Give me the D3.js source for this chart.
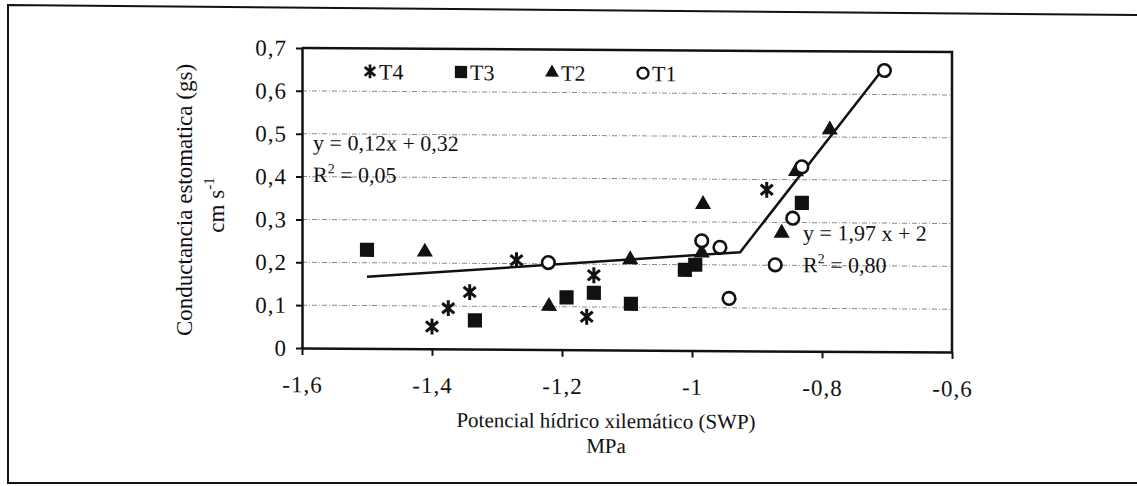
<!DOCTYPE html>
<html>
<head>
<meta charset="utf-8" />
<title>Conductancia estomatica vs potencial hidrico</title>
<script src="https://cdn.jsdelivr.net/npm/d3@7"></script>
<style>
body {
    margin: 0;
    background-color: #ffffff;
}
</style>
</head>
<body>
<svg id="chart"></svg>
<script>
// ---- data ----
var seriesNames = ["T4", "T3", "T2", "T1"];

var t4X = [-1.400, -1.375, -1.342, -1.270, -1.162, -1.151, -0.885];
var t4Y = [0.052, 0.095, 0.133, 0.208, 0.077, 0.174, 0.376];

var t3X = [-1.500, -1.334, -1.193, -1.151, -1.094, -1.011, -0.995, -0.831];
var t3Y = [0.230, 0.067, 0.122, 0.133, 0.108, 0.188, 0.200, 0.346];

var t2X = [-1.411, -1.220, -1.095, -0.983, -0.985, -0.862, -0.840, -0.788];
var t2Y = [0.226, 0.101, 0.211, 0.341, 0.228, 0.275, 0.419, 0.517];

var t1X = [-1.221, -0.985, -0.957, -0.943, -0.872, -0.845, -0.831, -0.704];
var t1Y = [0.203, 0.256, 0.241, 0.122, 0.201, 0.310, 0.430, 0.656];

// broken trend line (two segments)
var trendX = [-1.500, -0.926, -0.710];
var trendY = [0.167, 0.230, 0.652];

var xTicks = [-1.6, -1.4, -1.2, -1, -0.8, -0.6];
var yTicks = [0, 0.1, 0.2, 0.3, 0.4, 0.5, 0.6, 0.7];
var gridTicks = [0.1, 0.2, 0.3, 0.4, 0.5, 0.6];

var eq1 = ["y = 0,12x + 0,32", "0,05"];
var eq2 = ["y = 1,97 x + 2", "0,80"];

var width = 1137, height = 486;
var plot = { left: 302, right: 952, top: 48, bottom: 348 };
var skew = 0.36; // the scan is slightly tilted
var serif = "'Liberation Serif', 'DejaVu Serif', 'Times New Roman', serif";

var svg = d3.select("#chart")
    .attr("width", width)
    .attr("height", height)
    .style("font-family", serif);

svg.append("rect")
    .attr("width", width)
    .attr("height", height)
    .attr("fill", "#fff");

// outer frame of the figure
svg.append("path")
    .attr("d", "M1137,15 L8,5 L8,483 L1137,483")
    .attr("fill", "none")
    .attr("stroke", "#111")
    .attr("stroke-width", 2);

var g = svg.append("g")
    .attr("transform", "translate(0," + (-plot.left * Math.tan(skew * Math.PI / 180)) + ") skewY(" + skew + ")");

var x = d3.scaleLinear().domain([-1.6, -0.6]).range([plot.left, plot.right]);
var y = d3.scaleLinear().domain([0, 0.7]).range([plot.bottom, plot.top]);

var locale = d3.formatLocale({ decimal: ",", thousands: ".", grouping: [3], currency: ["", ""], minus: "-" });
var fmt = locale.format(".1~f");

// grid
g.append("g").selectAll("line")
    .data(gridTicks)
    .enter().append("line")
    .attr("x1", plot.left)
    .attr("x2", plot.right)
    .attr("y1", function(d) { return y(d); })
    .attr("y2", function(d) { return y(d); })
    .attr("stroke", "#8a8a8a")
    .attr("stroke-width", 1)
    .attr("stroke-dasharray", "5,2,1,2");

// plot box top and right
g.append("path")
    .attr("d", "M" + plot.left + "," + plot.top + " L" + plot.right + "," + plot.top + " L" + plot.right + "," + plot.bottom)
    .attr("fill", "none")
    .attr("stroke", "#111")
    .attr("stroke-width", 2.5);

// axes
var xAxis = d3.axisBottom(x)
    .tickValues(xTicks)
    .tickFormat(fmt)
    .tickSize(7)
    .tickSizeOuter(0)
    .tickPadding(21);

var yAxis = d3.axisLeft(y)
    .tickValues(yTicks)
    .tickFormat(fmt)
    .tickSize(6)
    .tickSizeOuter(0)
    .tickPadding(9);

var gx = g.append("g")
    .attr("transform", "translate(0," + plot.bottom + ")")
    .call(xAxis);
var gy = g.append("g")
    .attr("transform", "translate(" + plot.left + ",0)")
    .call(yAxis);

[gx, gy].forEach(function(a) {
    a.attr("font-family", serif).attr("font-size", 23);
    a.select(".domain").attr("stroke", "#111").attr("stroke-width", 2.5);
    a.selectAll(".tick line").attr("stroke", "#111").attr("stroke-width", 2);
    a.selectAll(".tick text")
        .attr("fill", "#111")
        .attr("letter-spacing", "1px");
});

// trend line
var line = d3.line()
    .x(function(d) { return x(d[0]); })
    .y(function(d) { return y(d[1]); });

g.append("path")
    .datum(d3.zip(trendX, trendY))
    .attr("d", line)
    .attr("fill", "none")
    .attr("stroke", "#111")
    .attr("stroke-width", 2.5);

// markers
var asterisk = {
    draw: function(ctx, size) {
        var r = Math.sqrt(size) / 2;
        var a = 40 * Math.PI / 180;
        var dx = r * Math.cos(a), dy = r * Math.sin(a);
        ctx.moveTo(0, -r); ctx.lineTo(0, r);
        ctx.moveTo(-dx, -dy); ctx.lineTo(dx, dy);
        ctx.moveTo(-dx, dy); ctx.lineTo(dx, -dy);
    }
};

var markers = {
    T4: { type: asterisk, size: 250, fill: "none", stroke: "#111", sw: 3 },
    T3: { type: d3.symbolSquare, size: 200, fill: "#111", stroke: "none", sw: 0 },
    T2: { type: d3.symbolTriangle, size: 112, fill: "#111", stroke: "none", sw: 0 },
    T1: { type: d3.symbolCircle, size: 125, fill: "#fff", stroke: "#111", sw: 2.6 }
};

var seriesData = {
    T4: d3.zip(t4X, t4Y),
    T3: d3.zip(t3X, t3Y),
    T2: d3.zip(t2X, t2Y),
    T1: d3.zip(t1X, t1Y)
};

seriesNames.forEach(function(name) {
    var m = markers[name];
    g.append("g").attr("class", "series-" + name)
        .selectAll("path")
        .data(seriesData[name])
        .enter().append("path")
        .attr("transform", function(d) { return "translate(" + x(d[0]) + "," + y(d[1]) + ")"; })
        .attr("d", d3.symbol().type(m.type).size(m.size))
        .attr("fill", m.fill)
        .attr("stroke", m.stroke)
        .attr("stroke-width", m.sw);
});

// legend
var legend = g.append("g").selectAll("g")
    .data(seriesNames)
    .enter().append("g")
    .attr("transform", function(d, i) { return "translate(" + (370 + i * 91) + ",71)"; });

legend.append("path")
    .attr("d", function(d) { return d3.symbol().type(markers[d].type).size(markers[d].size * 0.75)(); })
    .attr("fill", function(d) { return markers[d].fill; })
    .attr("stroke", function(d) { return markers[d].stroke; })
    .attr("stroke-width", function(d) { return markers[d].sw * 0.9; });

legend.append("text")
    .attr("x", 9)
    .attr("y", 8)
    .attr("font-size", 22)
    .attr("fill", "#111")
    .text(function(d) { return d; });

// equations
function equation(lines, px, py) {
    var t = g.append("g").attr("font-size", 22).attr("fill", "#111");
    t.append("text").attr("x", px).attr("y", py).text(lines[0]);
    var r2 = t.append("text").attr("x", px).attr("y", py + 32);
    r2.append("tspan").text("R");
    r2.append("tspan").attr("dy", -9).attr("font-size", 14).text("2");
    r2.append("tspan").attr("dy", 9).text(" = " + lines[1]);
}
equation(eq1, 313, 150);
equation(eq2, 803, 237);

// axis titles
g.append("text")
    .attr("text-anchor", "middle")
    .attr("font-size", 21)
    .attr("fill", "#111")
    .attr("x", 606)
    .attr("y", 426)
    .text("Potencial hídrico xilemático (SWP)");
g.append("text")
    .attr("text-anchor", "middle")
    .attr("font-size", 21)
    .attr("fill", "#111")
    .attr("x", 606)
    .attr("y", 451)
    .text("MPa");

var yt = svg.append("g")
    .attr("transform", "translate(192,200) rotate(-90)")
    .attr("font-size", 23)
    .attr("fill", "#111");
yt.append("text")
    .attr("text-anchor", "middle")
    .text("Conductancia estomatica (gs)");
var yt2 = yt.append("text")
    .attr("text-anchor", "middle")
    .attr("x", -5)
    .attr("y", 32);
yt2.append("tspan").text("cm s");
yt2.append("tspan").attr("dy", -10).attr("font-size", 15).text("-1");
</script>
</body>
</html>
